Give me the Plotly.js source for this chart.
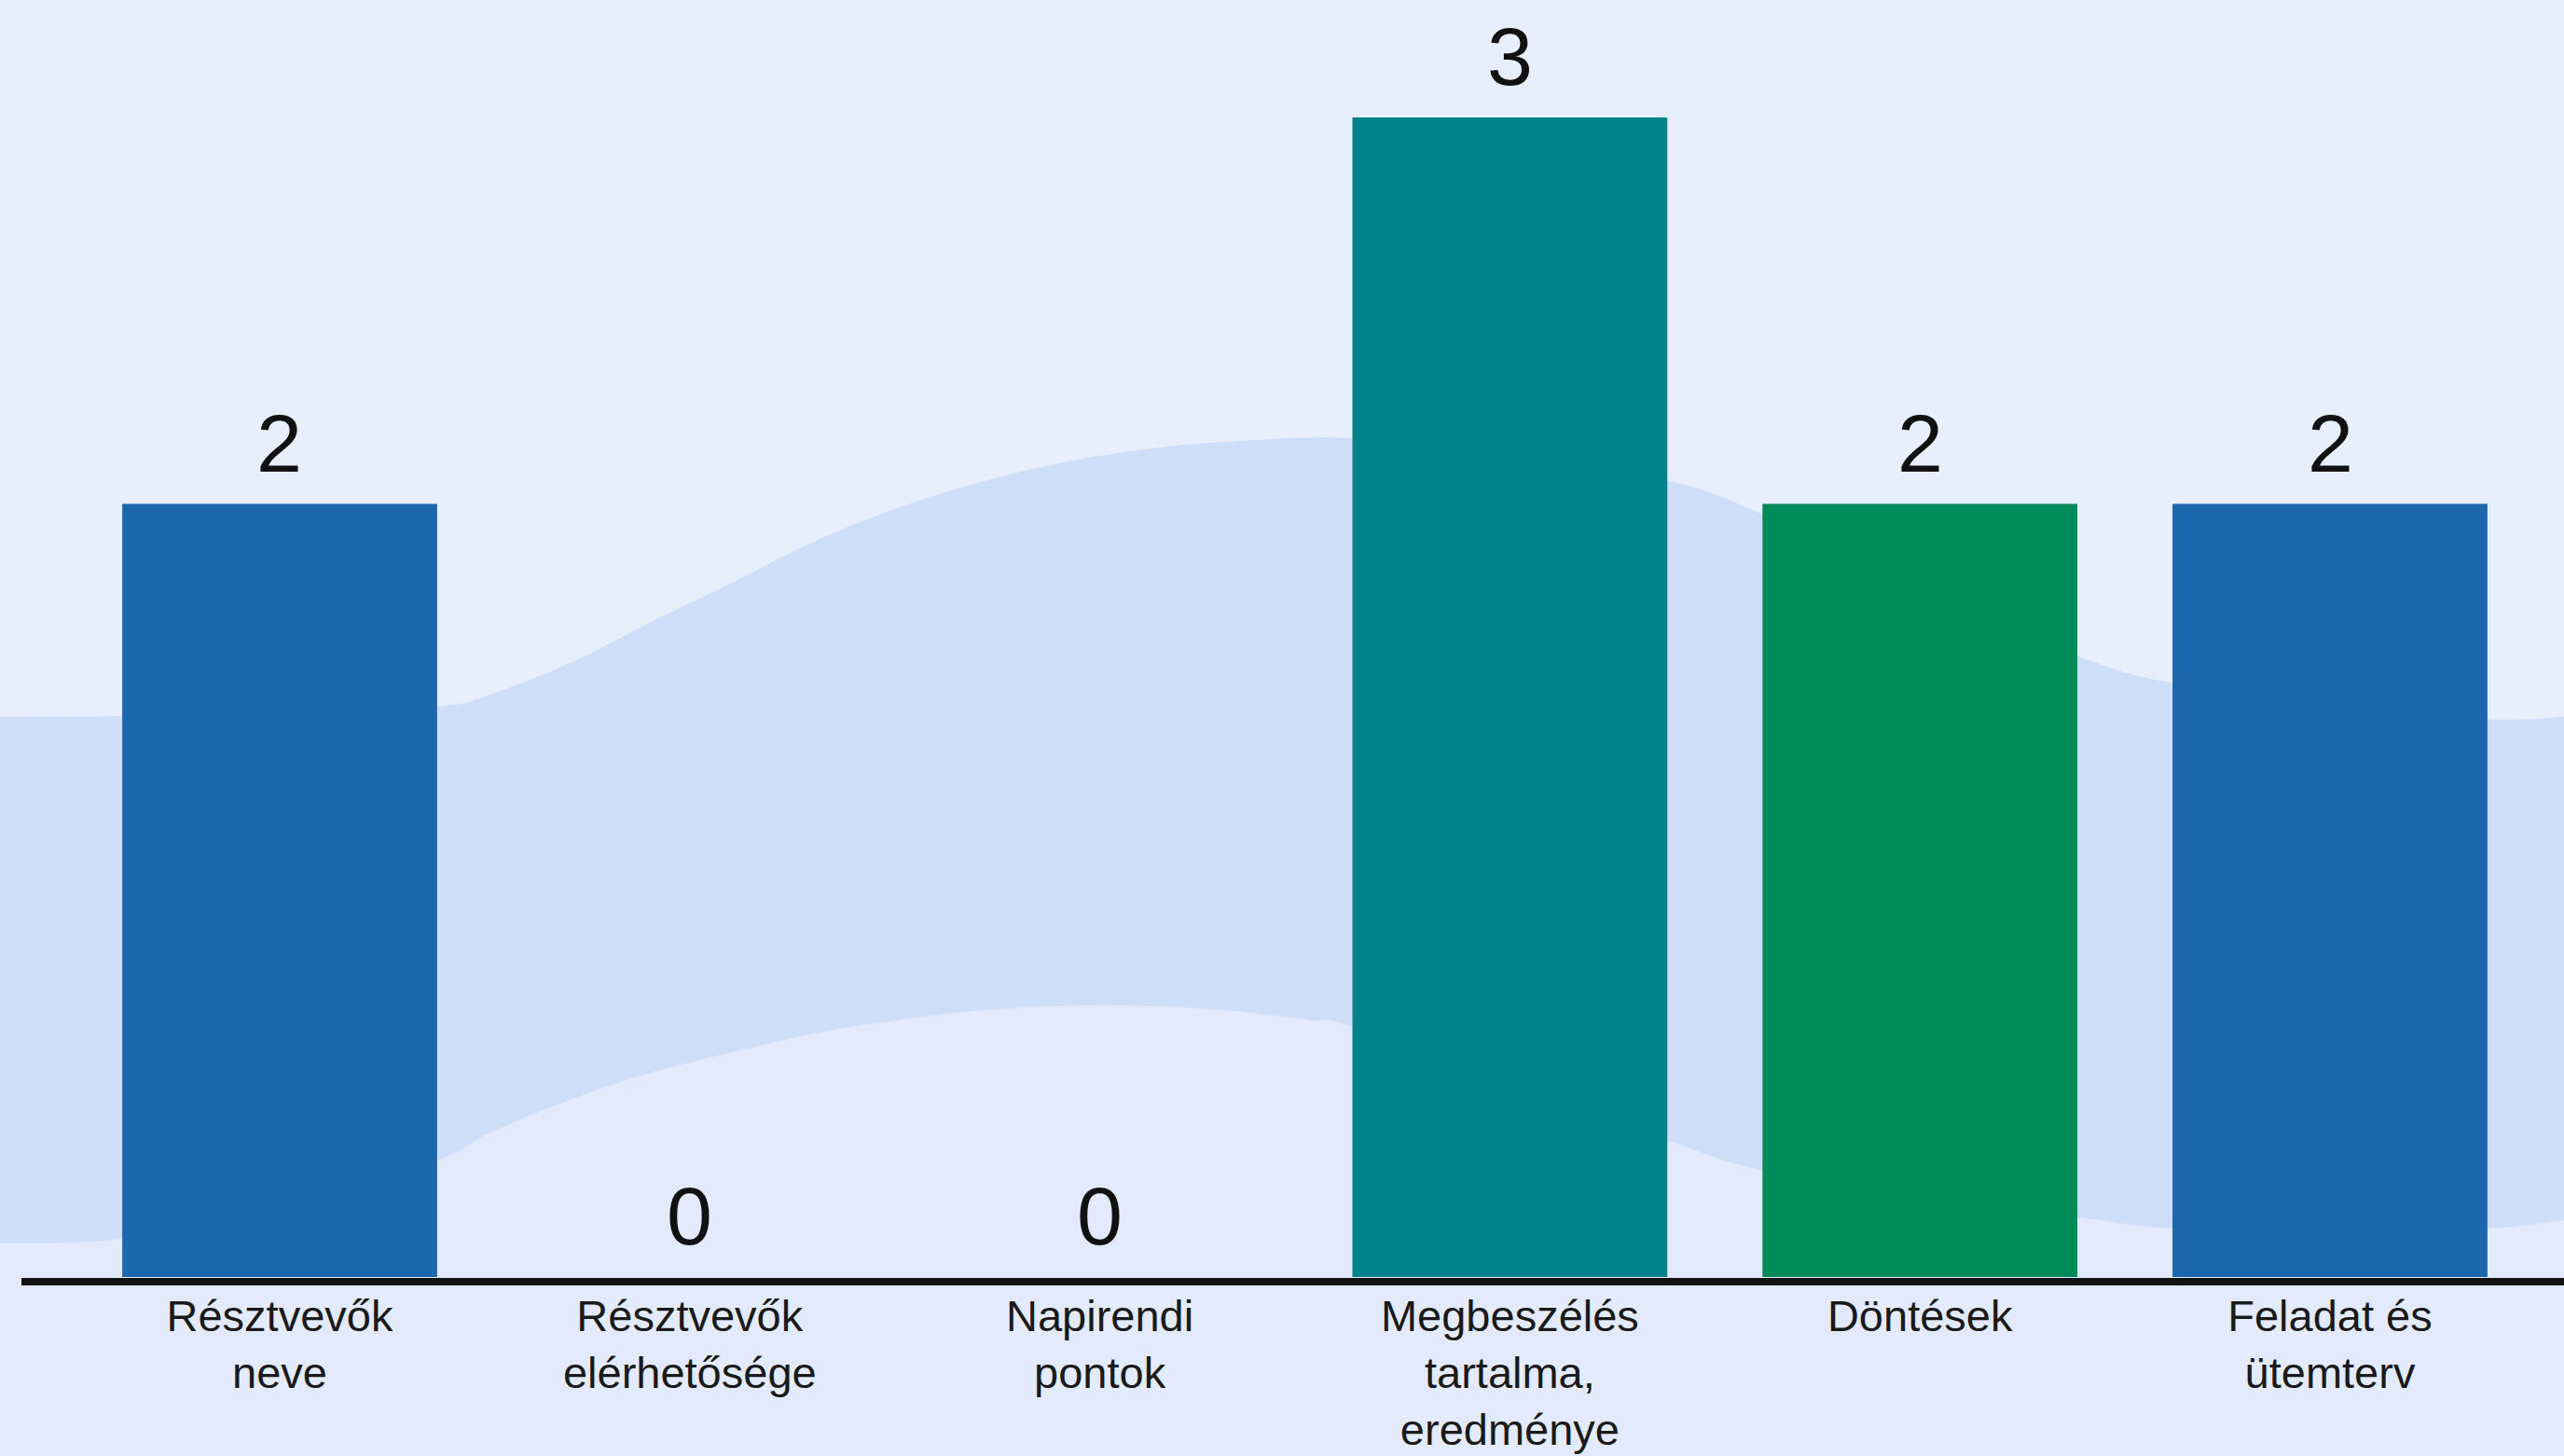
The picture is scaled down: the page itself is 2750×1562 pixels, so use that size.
<!DOCTYPE html>
<html>
<head>
<meta charset="utf-8">
<script src="https://cdn.plot.ly/plotly-3.0.1.min.js"></script>
<style>html,body{margin:0;padding:0;background:#e8effc;}#chart{width:2750px;height:1562px;}</style>
</head>
<body>
<div id="chart"></div>
<script>
const categories = ['Résztvevők<br>neve', 'Résztvevők<br>elérhetősége', 'Napirendi<br>pontok', 'Megbeszélés<br>tartalma,<br>eredménye', 'Döntések', 'Feladat és<br>ütemterv'];
const values = [2, 0, 0, 3, 2, 2];
const barColors = ['#1c67ad', '#1c67ad', '#1c67ad', '#00828a', '#008a5a', '#1c67ad'];

const W = 2750, H = 1562, B = 192, PH = H - B;
function px2paper(p) { return [p[0] / W, (PH - p[1]) / PH]; }
function smooth(pts) {
  const P = pts.map(px2paper);
  let d = '';
  for (let i = 0; i < P.length - 1; i++) {
    const p0 = P[Math.max(0, i - 1)], p1 = P[i], p2 = P[i + 1], p3 = P[Math.min(P.length - 1, i + 2)];
    const c1 = [p1[0] + (p2[0] - p0[0]) / 6, p1[1] + (p2[1] - p0[1]) / 6];
    const c2 = [p2[0] - (p3[0] - p1[0]) / 6, p2[1] - (p3[1] - p1[1]) / 6];
    if (i === 0) d += 'M' + p1[0] + ',' + p1[1];
    d += ' C' + c1[0] + ',' + c1[1] + ' ' + c2[0] + ',' + c2[1] + ' ' + p2[0] + ',' + p2[1];
  }
  return d;
}
// decorative background wave (pixel outline of the band)
const upper = [[0,769],[131,768],[300,764],[468,758],[526,745],[614,710],[701,666],[789,623],[877,579],[965,544],[1052,517],[1140,496],[1228,482],[1315,474],[1449,470],[1620,488],[1787,515],[1887,550],[2060,630],[2229,704],[2330,733],[2500,760],[2668,772],[2750,769]];
const lower = [[0,1334],[131,1329],[300,1295],[468,1245],[526,1215],[614,1179],[701,1150],[789,1128],[877,1108],[965,1094],[1052,1084],[1140,1079],[1228,1079],[1315,1084],[1403,1094],[1449,1101],[1620,1165],[1787,1223],[1887,1255],[2060,1285],[2229,1306],[2330,1318],[2500,1322],[2668,1318],[2750,1309]];
const lowerRev = lower.slice().reverse();
const bandPath = smooth(upper) + ' L' + px2paper(lowerRev[0]).join(',') + ' ' + smooth(lowerRev).replace(/^M[^ ]+/, '') + ' Z';
const bottomPath = smooth(lower) + ' L' + px2paper([W, H]).join(',') + ' L' + px2paper([0, H]).join(',') + ' Z';

const trace = {
  type: 'bar',
  x: categories,
  y: values,
  width: 0.768,
  marker: { color: barColors, line: { width: 0 } },
  hoverinfo: 'skip'
};

const annotations = categories.map((c, i) => ({
  x: c, y: values[i], xref: 'x', yref: 'y',
  text: String(values[i]), showarrow: false,
  yanchor: 'bottom', yshift: 14,
  font: { family: 'Liberation Sans, Arial, sans-serif', size: 88, color: '#111111' }
}));

const layout = {
  width: W, height: H,
  margin: { l: 0, r: 0, t: 0, b: B, pad: 0 },
  paper_bgcolor: '#e8effc',
  plot_bgcolor: 'rgba(0,0,0,0)',
  showlegend: false,
  bargap: 0.232,
  xaxis: {
    type: 'category',
    range: [-0.6821, 5.5707],
    showline: false, showgrid: false, zeroline: false,
    ticks: '', ticklabelstandoff: 10,
    tickfont: { family: 'Liberation Sans, Arial, sans-serif', size: 47, color: '#1a1a1a' },
    fixedrange: true
  },
  yaxis: {
    range: [0, PH / 414.7],
    visible: false, showgrid: false, zeroline: false, fixedrange: true
  },
  shapes: [
    { type: 'path', xref: 'paper', yref: 'paper', path: bottomPath, fillcolor: '#e2eafb', line: { width: 0 }, layer: 'below' },
    { type: 'path', xref: 'paper', yref: 'paper', path: bandPath, fillcolor: '#cfdef8', line: { width: 0 }, layer: 'below' },
    { type: 'line', xref: 'paper', yref: 'paper', x0: 23 / W, x1: 1, y0: (PH - 1375) / PH, y1: (PH - 1375) / PH, line: { color: '#111111', width: 8 }, layer: 'above' }
  ],
  annotations: annotations
};

Plotly.newPlot('chart', [trace], layout, { displayModeBar: false, staticPlot: true });
</script>
</body>
</html>
